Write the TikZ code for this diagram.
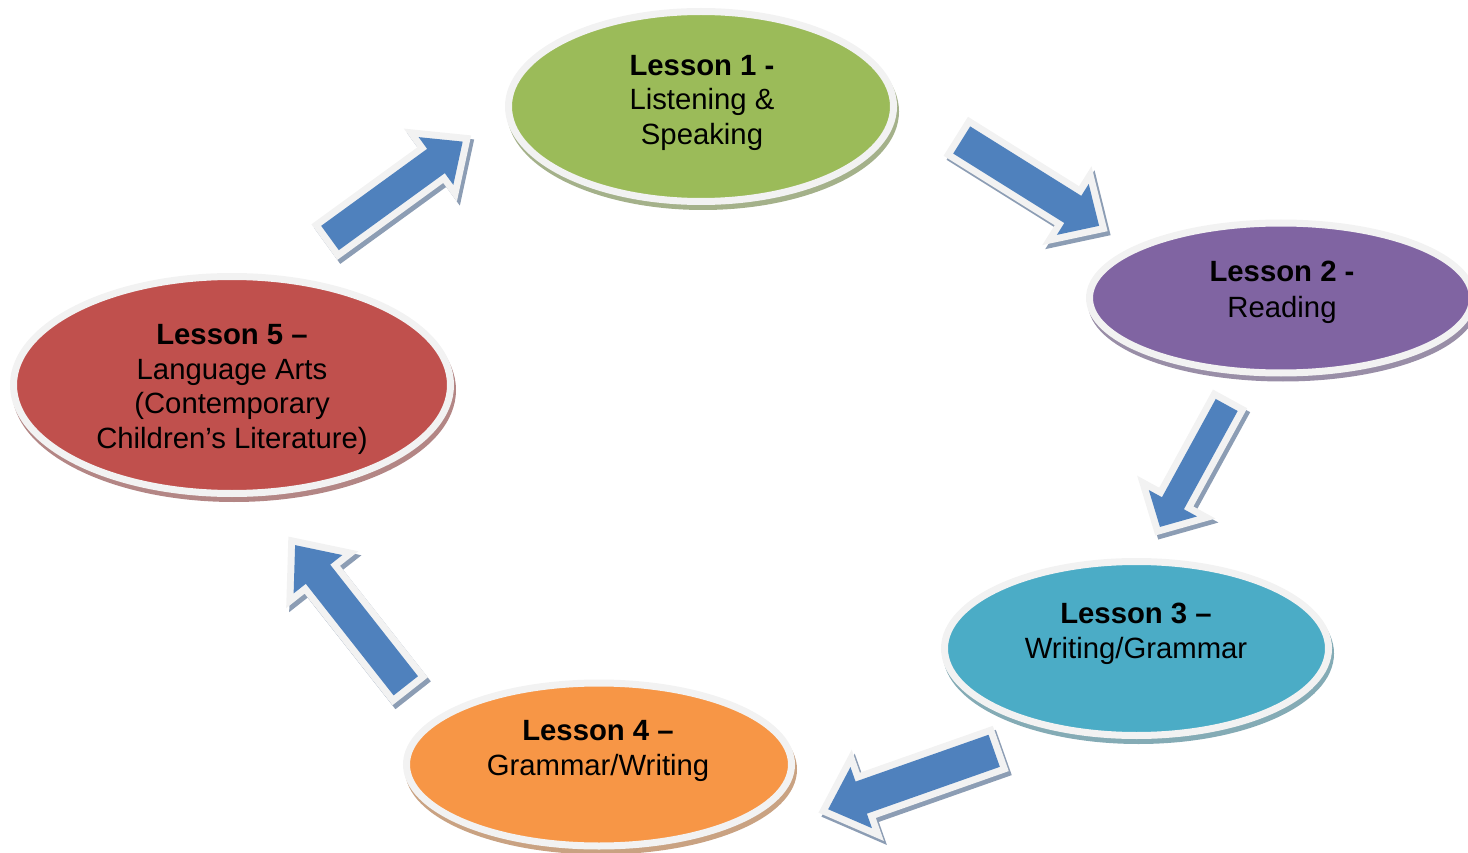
\documentclass[tikz,border=0pt]{standalone}
\usepackage{fontspec}
\setmainfont{Liberation Sans}
\usetikzlibrary{shapes.geometric,calc}
\definecolor{ring}{HTML}{F2F2F2}
\definecolor{ablue}{HTML}{4F81BD}
\definecolor{ashadow}{HTML}{8C9DB4}
\definecolor{cgreen}{HTML}{9BBB59}
\definecolor{cpurple}{HTML}{8064A2}
\definecolor{cteal}{HTML}{4BACC6}
\definecolor{corange}{HTML}{F79646}
\definecolor{cred}{HTML}{C0504D}
\tikzset{
  lesson/.style={ellipse, inner sep=0pt, fill=#1, draw=ring, line width=7pt,
    preaction={draw=#1!50!gray!80!white, fill=#1!50!gray!80!white, line width=7pt,
      transform canvas={xshift=2pt,yshift=-5pt}}},
  lsntext/.style={font=\fontsize{29.3}{34.5}\selectfont, align=center,
    anchor=north, inner sep=0pt, text=black},
  arrowshadow/.style={draw=ashadow, fill=ashadow, line width=14pt, line join=miter},
  arrowring/.style={draw=ring, fill=ring, line width=14pt, line join=miter},
  arrowbody/.style={fill=ablue},
}
\newcommand\blockarrow[6]{%
  \begin{scope}[shift={($(#1)+(3,4)$)},rotate=#2]
    \path[arrowshadow] (0,-#4) -- (#3-#6,-#4) -- (#3-#6,-#5) -- (#3,0) -- (#3-#6,#5) -- (#3-#6,#4) -- (0,#4) -- cycle;
  \end{scope}
  \begin{scope}[shift={(#1)},rotate=#2]
    \path[arrowring] (0,-#4) -- (#3-#6,-#4) -- (#3-#6,-#5) -- (#3,0) -- (#3-#6,#5) -- (#3-#6,#4) -- (0,#4) -- cycle;
    \path[arrowbody] (0,-#4) -- (#3-#6,-#4) -- (#3-#6,-#5) -- (#3,0) -- (#3-#6,#5) -- (#3-#6,#4) -- (0,#4) -- cycle;
  \end{scope}}
\begin{document}
\begin{tikzpicture}[x=1pt,y=-1pt]
\useasboundingbox (0,0) rectangle (1468,853);
% lessons
\node[lesson=cgreen, minimum width=385, minimum height=190] (l1) at (701,106.5) {};
\node[lesson=cpurple, minimum width=383, minimum height=150] (l2) at (1281,298) {};
\node[lesson=cteal, minimum width=384, minimum height=174] (l3) at (1136.5,648.5) {};
\node[lesson=corange, minimum width=385, minimum height=163] (l4) at (599,764.5) {};
\node[lesson=cred, minimum width=437, minimum height=217] (l5) at (232,385) {};
% texts
\node[lsntext] (t1) at (702,55) {\textbf{Lesson 1 -}\\Listening \&\\Speaking};
\node[lsntext] (t2) at (1282,260.5) {\textbf{Lesson 2 -}\\[1.5pt]Reading};
\node[lsntext] (t3) at (1136,602.5) {\textbf{Lesson 3 –}\\[0.5pt]Writing/Grammar};
\node[lsntext] (t4) at (598,720.5) {\textbf{Lesson 4 –}\\[0.5pt]Grammar/Writing};
\node[lsntext] (t5) at (232,324.5) {\textbf{Lesson 5 –}\\Language Arts\\(Contemporary\\Children’s Literature)};
% arrows
\coordinate (a1) at (330,238);
\coordinate (a2) at (961.7,140);
\coordinate (a3) at (1226.7,405);
\coordinate (a4) at (994.2,750.8);
\coordinate (a5) at (405.8,685.8);
\blockarrow{a1}{36}{164}{15}{29.5}{33}
\blockarrow{a2}{-32}{162}{16}{30}{31}
\blockarrow{a3}{241.3}{139}{12.5}{27.5}{27}
\blockarrow{a4}{199.4}{176}{17}{32.4}{35}
\blockarrow{a5}{128.2}{179}{15.5}{31}{37}
\end{tikzpicture}
\end{document}
